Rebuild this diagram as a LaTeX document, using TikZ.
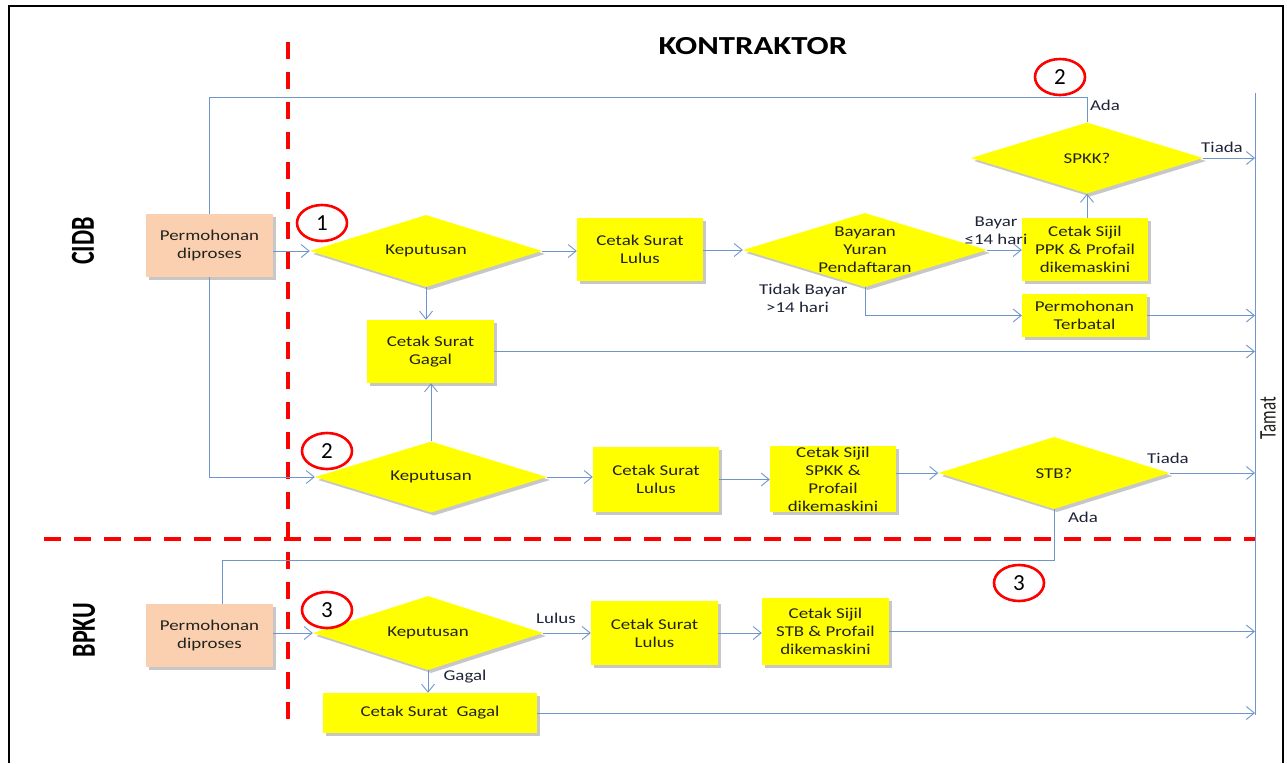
\documentclass[tikz,border=0pt]{standalone}
\usepackage{fontspec}
\setmainfont{Carlito}[FakeStretch=1.26]
\newfontfamily\plainfont{Carlito}
\usetikzlibrary{shapes.geometric,arrows.meta,shadows}
\definecolor{flowblue}{RGB}{110,150,205}
\definecolor{boxyellow}{RGB}{255,255,0}
\definecolor{peach}{RGB}{250,208,176}
\definecolor{txtdark}{RGB}{35,35,30}
\definecolor{lbldark}{RGB}{30,35,55}
\begin{document}
\begin{tikzpicture}[x=1pt,y=-1pt,
  font=\fontsize{15}{18}\selectfont,
  conn/.style={draw=flowblue, line width=0.9pt},
  arr/.style={conn, -{Straight Barb[length=8pt,width=13pt,line width=0.9pt]}},
  shad/.style={drop shadow={shadow xshift=3pt,shadow yshift=-3pt,opacity=0.22,fill=black}},
  pbox/.style 2 args={rectangle, fill=boxyellow, text=txtdark, align=center, inner sep=0pt,
    minimum width=#1, minimum height=#2, shad},
  startbox/.style={pbox={127pt}{63pt}, fill=peach},
  decision/.style 2 args={diamond, aspect=3.2, fill=boxyellow, text=txtdark, align=center,
    inner sep=0pt, minimum width=#1, minimum height=#2, shad},
  lbl/.style={text=lbldark, align=center, inner sep=0pt},
  numc/.style={ellipse, draw=red, line width=2.6pt, minimum width=50pt, minimum height=36pt,
    inner sep=0pt, font=\plainfont\fontsize{23}{23}\selectfont},
  reddash/.style={draw=red, line width=4pt, dash pattern=on 17pt off 13pt},
  lane/.style={font=\plainfont\bfseries\fontsize{24}{24}\selectfont, rotate=90, inner sep=0pt}
]
\useasboundingbox (0,0) rectangle (1287,763);
% frame
\draw[line width=2pt] (9,763) -- (9,6) -- (1283,6) -- (1283,763);
% lane separators
\draw[reddash] (288,42) -- (288,720);
\draw[reddash] (44,539) -- (1256,539);
% titles
\node[font=\bfseries\fontsize{26}{26}\selectfont, inner sep=0pt] (title) at (753,46) {KONTRAKTOR};
\node[lane] (cidb) at (83,241) {\scalebox{1}[1.4]{CIDB}};
\node[lane] (bpku) at (84,630) {\scalebox{1}[1.4]{BPKU}};

% nodes
\node[startbox] (Perm1) at (209.5,245.5) {Permohonan\\diproses};
\node[startbox] (PermB) at (209.5,635.5) {Permohonan\\diproses};
\node[decision={232pt}{72pt}] (K1) at (426,251) {Keputusan};
\node[pbox={126pt}{63pt}] (CSL1) at (640,249.5) {Cetak Surat\\Lulus};
\node[decision={244pt}{74pt}, label={[lbl, text=txtdark]center:Bayaran\\Yuran\\Pendaftaran}] (Bay) at (865,250) {};
\node[pbox={126pt}{63pt}] (SijilPPK) at (1085,249.5) {Cetak Sijil\\PPK \& Profail\\dikemaskini};
\node[decision={232pt}{71pt}] (SPKK) at (1087,158) {SPKK?};
\node[pbox={125pt}{43pt}] (Terbatal) at (1084.5,315.5) {Permohonan\\Terbatal};
\node[pbox={127pt}{63pt}] (CSG1) at (430.5,351.5) {Cetak Surat\\Gagal};
\node[decision={232pt}{71pt}] (K2) at (431,477) {Keputusan};
\node[pbox={126pt}{65pt}] (CSL2) at (656,479.5) {Cetak Surat\\Lulus};
\node[pbox={126pt}{66pt}] (SijilSPKK) at (833,479) {Cetak Sijil\\SPKK \&\\Profail\\dikemaskini};
\node[decision={231pt}{72pt}] (STB) at (1054,473) {STB?};
\node[decision={230pt}{74pt}] (K3) at (428,633) {Keputusan};
\node[pbox={127pt}{64pt}] (CSL3) at (654.5,633) {Cetak Surat\\Lulus};
\node[pbox={127pt}{67pt}] (SijilSTB) at (825.5,631.5) {Cetak Sijil\\STB \& Profail\\dikemaskini};
\node[pbox={214pt}{40pt}] (CSG2) at (430,713) {Cetak Surat~~Gagal};

% end line
\coordinate (tamatTop) at (1255,93);
\coordinate (tamatBot) at (1255,715);
\draw[conn] (tamatTop) -- (tamatBot);
\node[font=\plainfont\fontsize{17}{17}\selectfont, rotate=90, inner sep=0pt, text=txtdark] (tamat) at (1268,418) {\scalebox{1}[1.4]{Tamat}};

% numbered circles
\node[numc] (c1) at (322,223) {1};
\node[numc] (c2a) at (1060,77) {2};
\node[numc] (c2b) at (327,451) {2};
\node[numc] (c3a) at (1019,583) {3};
\node[numc] (c3b) at (327,610) {3};

% loop coordinates
\coordinate (loopA) at (209.5,97);
\coordinate (loopB) at (222,560);

% connectors - CIDB row 1
\draw[arr] (Perm1.east |- K1.west) -- (K1.west);
\draw[arr] (K1.east) -- (K1.east -| CSL1.west);
\draw[arr] (CSL1.east |- Bay.west) -- (Bay.west);
\draw[arr] (Bay.east) -- (Bay.east -| SijilPPK.west);
\draw[arr] (SPKK.south |- SijilPPK.north) -- (SPKK.south);
\draw[arr] (SPKK.east) -- (SPKK.east -| tamatTop);
\draw[conn] (SPKK.north) |- (loopA) -- (Perm1.north);
\draw[arr] (Bay.south) |- (Terbatal.west);
\draw[arr] (Terbatal.east) -- (Terbatal.east -| tamatTop);
\draw[arr] (K1.south) -- (K1.south |- CSG1.north);
\draw[arr] (CSG1.east) -- (CSG1.east -| tamatTop);
% CIDB row 2
\draw[arr] (Perm1.south) |- (K2.west);
\draw[arr] (K2.north) -- (K2.north |- CSG1.south);
\draw[arr] (K2.east) -- (K2.east -| CSL2.west);
\draw[arr] (CSL2.east) -- (CSL2.east -| SijilSPKK.west);
\draw[arr] (SijilSPKK.east |- STB.west) -- (STB.west);
\draw[arr] (STB.east) -- (STB.east -| tamatTop);
\draw[conn] (STB.south) |- (loopB) -- (loopB |- PermB.north);
% BPKU
\draw[arr] (PermB.east |- K3.west) -- (K3.west);
\draw[arr] (K3.east) -- (K3.east -| CSL3.west);
\draw[arr] (CSL3.east) -- (CSL3.east -| SijilSTB.west);
\draw[arr] (SijilSTB.east) -- (SijilSTB.east -| tamatTop);
\draw[arr] (K3.south) -- (K3.south |- CSG2.north);
\draw[arr] (CSG2.east) -- (CSG2.east -| tamatTop);

% connector labels
\node[lbl] (lAda1) at (1105,105) {Ada};
\node[lbl] (lTiada1) at (1222,147) {Tiada};
\node[lbl] (lBayar) at (996,231) {Bayar\\≤14 hari};
\node[lbl, align=left, anchor=west] (lTidak) at (759,298) {Tidak Bayar\\\hspace*{7pt}>14 hari};
\node[lbl] (lTiada2) at (1168,458) {Tiada};
\node[lbl] (lAda2) at (1083,517) {Ada};
\node[lbl] (lLulus) at (556,618) {Lulus};
\node[lbl] (lGagal) at (465,677) {Gagal};
\end{tikzpicture}
\end{document}
